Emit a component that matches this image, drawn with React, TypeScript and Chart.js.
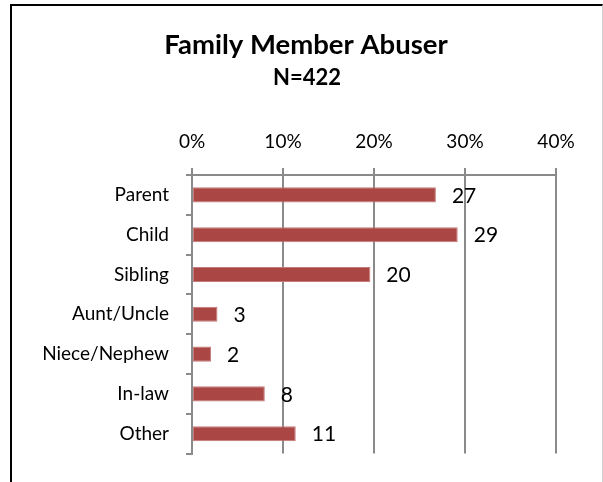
import React, { useEffect, useRef } from "react";
import { Chart, registerables } from "chart.js";

Chart.register(...registerables);

const categories = ["Parent", "Child", "Sibling", "Aunt/Uncle", "Niece/Nephew", "In-law", "Other"];
const values = [26.8, 29.2, 19.6, 2.8, 2.1, 8.0, 11.4];
const valueLabels = ["27", "29", "20", "3", "2", "8", "11"];
const titleText = "Family Member Abuser";
const subtitleText = "N=422";
const xMin = 0;
const xMax = 40;
const xStep = 10;

const FONT = "Lato, 'Open Sans', sans-serif";

const labelPlugin = {
  id: "valueLabels",
  afterDatasetsDraw(chart: any) {
    const ctx = chart.ctx;
    const meta = chart.getDatasetMeta(0);
    ctx.save();
    ctx.font = `21px ${FONT}`;
    ctx.fillStyle = "#000";
    ctx.textAlign = "left";
    ctx.textBaseline = "middle";
    meta.data.forEach((bar: any, i: number) => {
      ctx.fillText(valueLabels[i], bar.x + 16, bar.y + 1);
    });
    ctx.restore();
  },
};

const titlePlugin = {
  id: "customTitle",
  afterDraw(chart: any) {
    const ctx = chart.ctx;
    ctx.save();
    ctx.fillStyle = "#000";
    ctx.textAlign = "center";
    ctx.textBaseline = "alphabetic";
    ctx.font = `bold 27.5px ${FONT}`;
    ctx.fillText(titleText, 306, 54);
    ctx.font = `bold 22px ${FONT}`;
    ctx.fillText(subtitleText, 307, 85);
    ctx.restore();
  },
};

export default function App() {
  const ref = useRef<HTMLCanvasElement>(null);
  useEffect(() => {
    if (!ref.current) return;
    const chart = new Chart(ref.current, {
      type: "bar",
      data: {
        labels: categories,
        datasets: [
          {
            data: values,
            backgroundColor: "#AA4643",
            borderColor: "#C47A78",
            borderWidth: 1,
            borderSkipped: false,
            categoryPercentage: 1,
            barPercentage: 0.38,
          },
        ],
      },
      options: {
        indexAxis: "y",
        responsive: false,
        animation: false,
        layout: { padding: { left: 0, right: 47, top: 0, bottom: 27 } },
        plugins: {
          legend: { display: false },
          title: { display: false },
          tooltip: { enabled: false },
        },
        scales: {
          x: {
            position: "top",
            min: xMin,
            max: xMax,
            ticks: {
              stepSize: xStep,
              color: "#000",
              font: { family: FONT, size: 19 },
              padding: 15,
              callback: (v: any) => `${v}%`,
            },
            grid: { color: "#8a8a8a", lineWidth: 2, tickLength: 7, drawTicks: true },
            border: { color: "#8a8a8a", width: 2 },
            afterFit: (s: any) => {
              s.height = 175;
            },
          },
          y: {
            ticks: {
              color: "#000",
              font: { family: FONT, size: 19 },
              padding: 17,
            },
            grid: {
              offset: true,
              drawOnChartArea: false,
              drawTicks: true,
              tickLength: 6,
              color: "#8a8a8a",
              lineWidth: 2,
            },
            border: { color: "#8a8a8a", width: 2 },
            afterFit: (s: any) => {
              s.width = 192;
            },
          },
        },
      },
      plugins: [labelPlugin, titlePlugin],
    });
    return () => chart.destroy();
  }, []);

  return (
    <div style={{ position: "fixed", left: 0, top: 0, width: 603, height: 482, background: "#fff", overflow: "hidden" }}>
      <canvas ref={ref} width={603} height={482} style={{ position: "absolute", left: 0, top: 0 }} />
      <div
        style={{
          position: "absolute",
          left: 10,
          top: 4,
          width: 590,
          height: 478,
          borderTop: "2px solid #000",
          borderLeft: "2px solid #000",
          borderRight: "1px solid #d0d0d0",
          pointerEvents: "none",
        }}
      />
    </div>
  );
}
